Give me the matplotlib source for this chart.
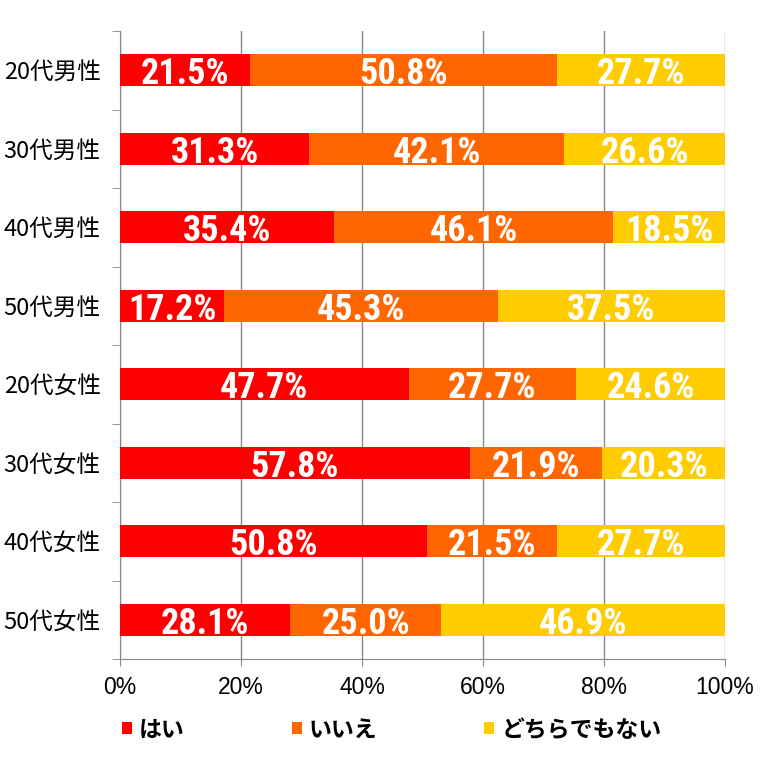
import matplotlib
matplotlib.use("Agg")
import matplotlib.pyplot as plt
from matplotlib.patches import Patch
import numpy as np

categories = ["20代男性", "30代男性", "40代男性", "50代男性",
              "20代女性", "30代女性", "40代女性", "50代女性"]
series_names = ["はい", "いいえ", "どちらでもない"]
yes_vals = [21.5, 31.3, 35.4, 17.2, 47.7, 57.8, 50.8, 28.1]
no_vals = [50.8, 42.1, 46.1, 45.3, 27.7, 21.9, 21.5, 25.0]
neither_vals = [27.7, 26.6, 18.5, 37.5, 24.6, 20.3, 27.7, 46.9]
x_ticks = [0, 20, 40, 60, 80, 100]
colors = ["#FF0000", "#FF6600", "#FFCC00"]

jp_font = ["Noto Sans CJK JP", "DejaVu Sans"]
narrow_font = ["Liberation Sans Narrow", "Roboto Condensed", "Liberation Sans"]

fig = plt.figure(figsize=(7.66, 7.60), dpi=100)
ax = fig.add_axes([120 / 766, 1 - 659 / 760, 605 / 766, 628 / 760])

y = np.arange(len(categories))
left = np.zeros(len(categories))
for vals, col in zip([yes_vals, no_vals, neither_vals], colors):
    vals = np.array(vals)
    ax.barh(y, vals, left=left, height=0.41, color=col, zorder=3)
    for yi, l, v in zip(y, left, vals):
        ax.text(l + v / 2, yi, f"{v:.1f}%", ha="center", va="center_baseline",
                color="white", fontsize=26, fontweight="bold",
                family=narrow_font, fontstretch="condensed", zorder=4)
    left += vals

ax.set_xlim(0, 100)
ax.set_ylim(len(categories) - 0.5, -0.5)

ax.set_xticks(x_ticks)
ax.set_xticklabels([f"{t}%" for t in x_ticks],
                   family=["Liberation Sans", "DejaVu Sans"], fontsize=16.5)
ax.tick_params(axis="x", length=5, color="#888888", pad=7)
ax.grid(axis="x", color="#888888", linewidth=1, zorder=0)

ax.set_yticks(y)
ax.set_yticklabels(categories, family=jp_font, fontsize=17)
ax.tick_params(axis="y", which="major", length=0, pad=14)
ax.set_yticks(np.arange(-0.5, len(categories)), minor=True)
ax.tick_params(axis="y", which="minor", length=6, color="#888888")

for s in ["top", "right"]:
    ax.spines[s].set_visible(False)
for s in ["left", "bottom"]:
    ax.spines[s].set_color("#888888")

handles = [Patch(facecolor=c, edgecolor="none") for c in colors]
fig.legend(handles, series_names, loc="center left",
           bbox_to_anchor=(122 / 766, 1 - 730 / 760), ncol=3, frameon=False,
           prop={"family": jp_font, "size": 16.5, "weight": "bold"},
           borderpad=0, borderaxespad=0,
           handlelength=0.44, handleheight=0.44, handletextpad=0.3,
           columnspacing=4.67)

fig.savefig("out.png", dpi=100)
